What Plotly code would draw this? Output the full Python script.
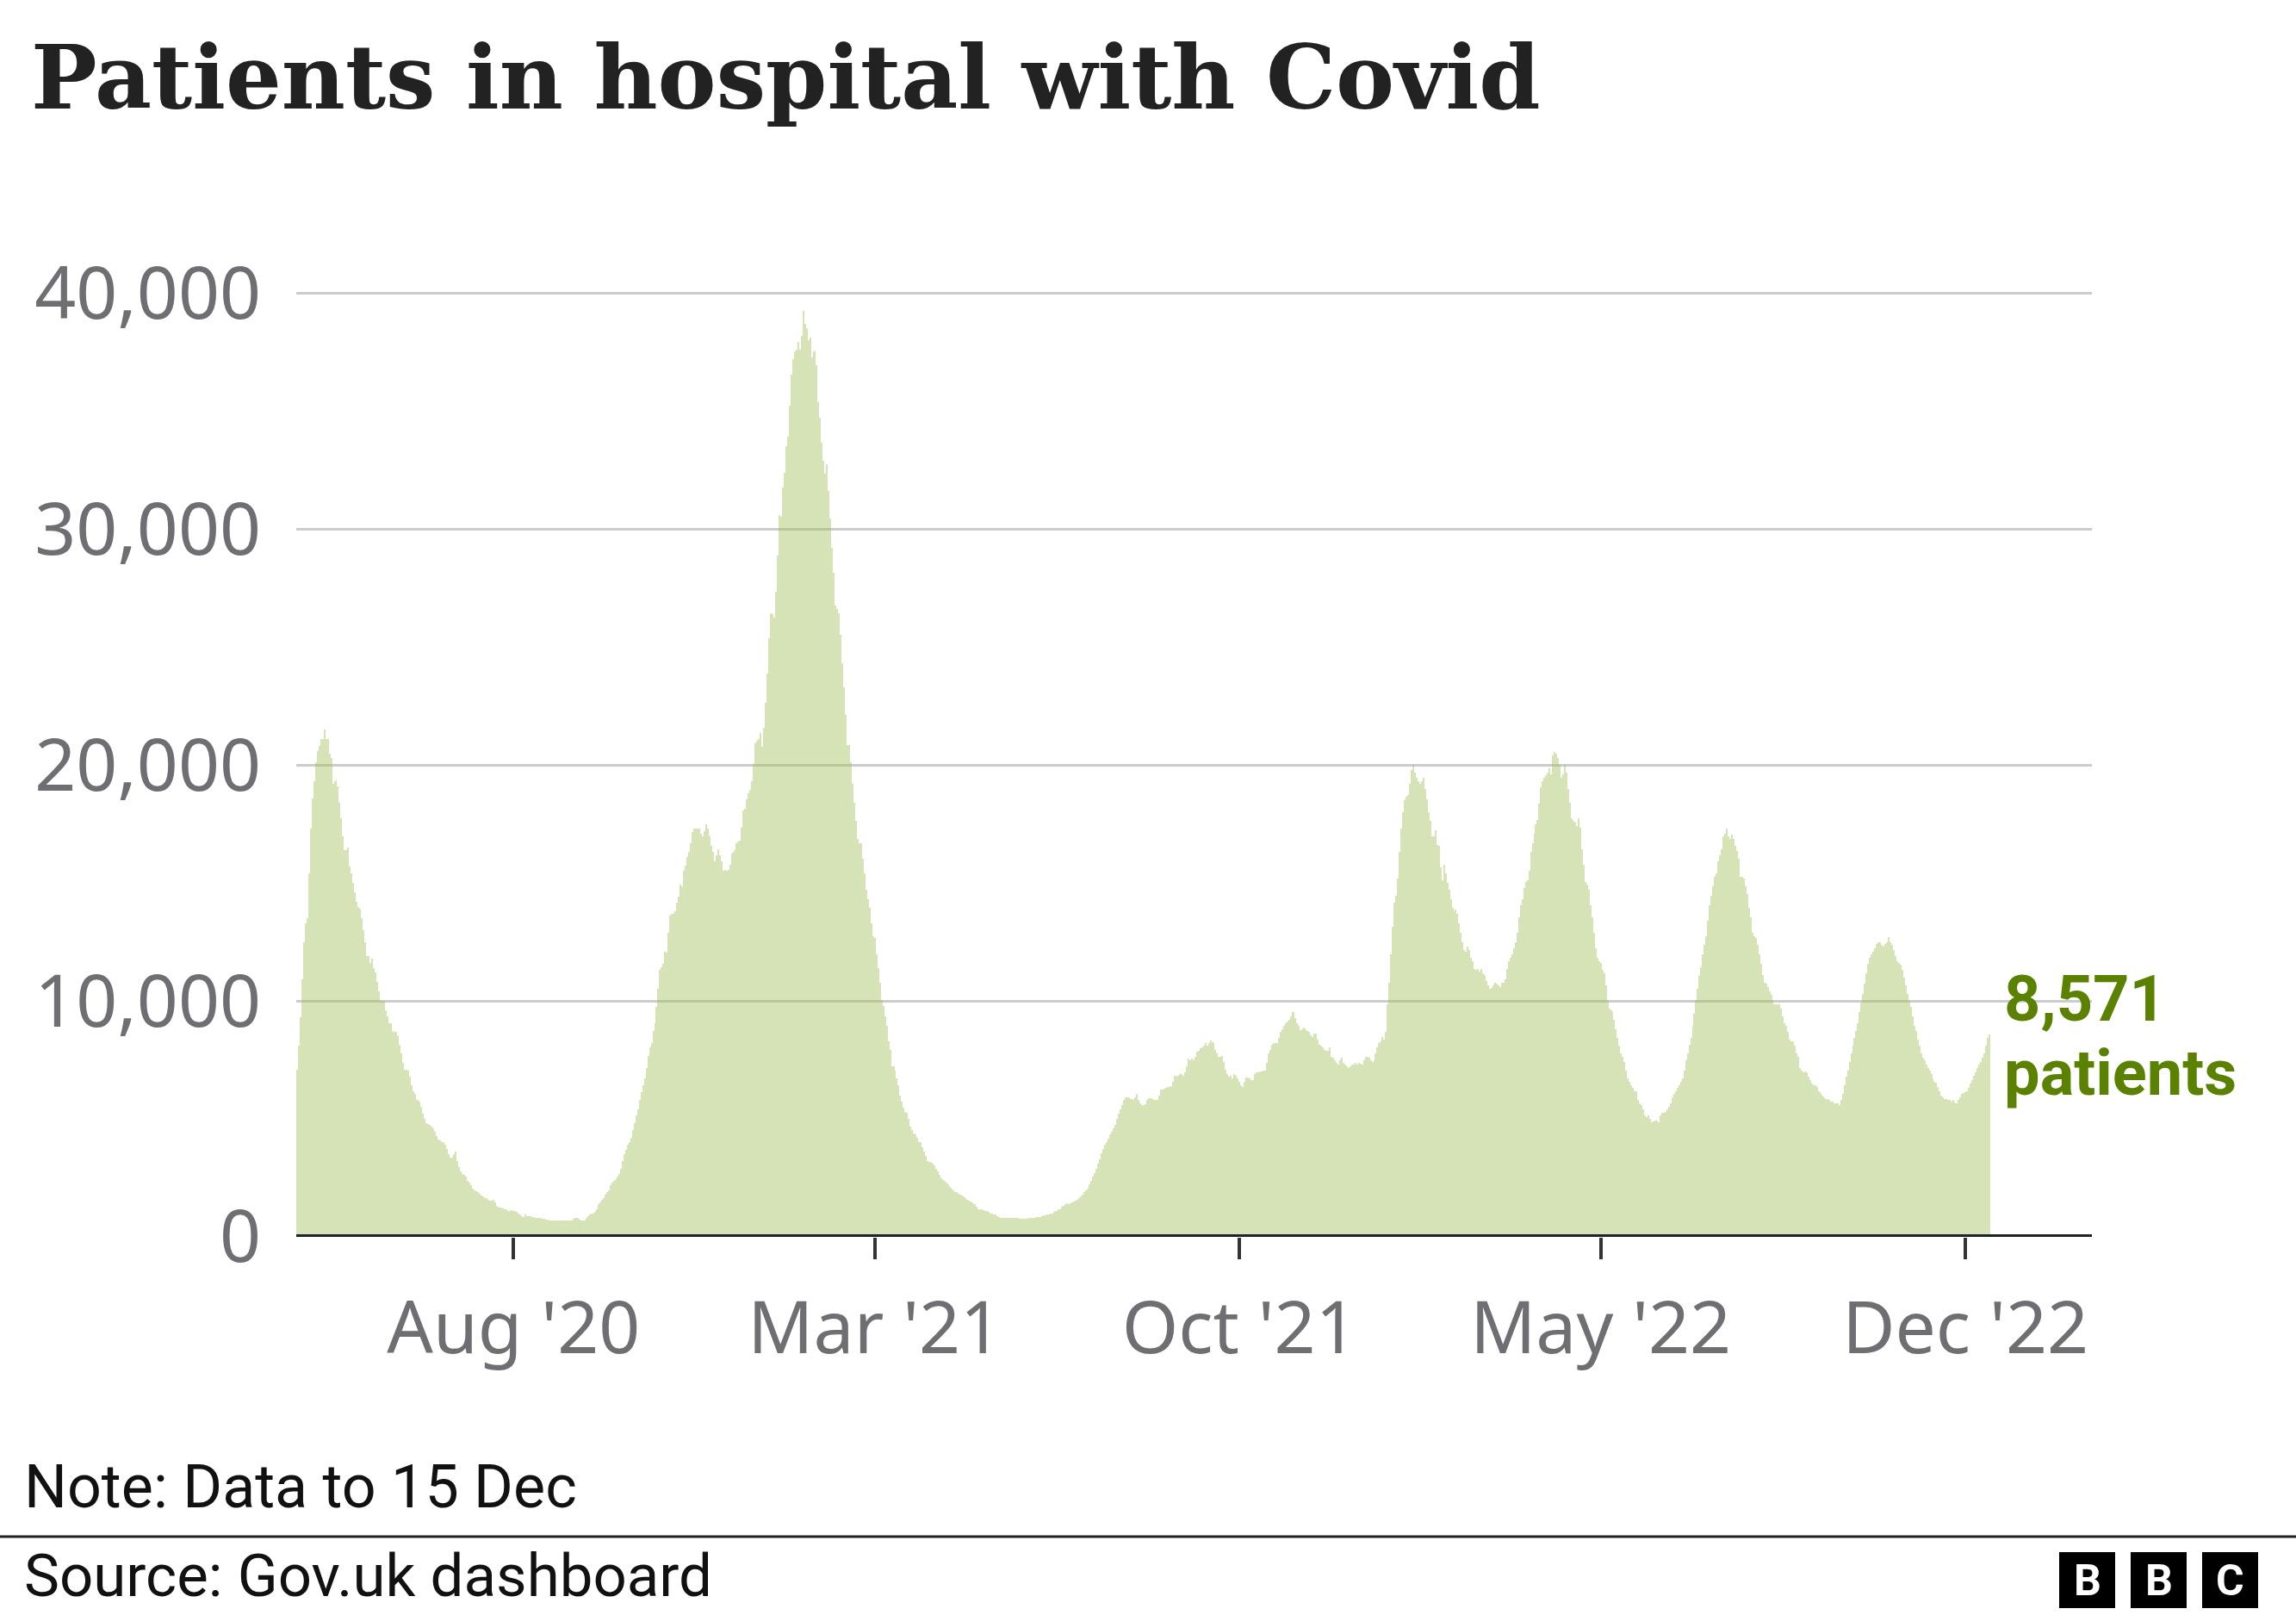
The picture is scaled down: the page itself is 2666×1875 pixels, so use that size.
import pandas as pd
import plotly.graph_objects as go

# ---------------- data (daily patients in hospital with Covid, UK) ----------------
start_date = "2020-03-27"

wave_spring_2020 = [
    7100, 8100, 9300, 10900, 12500, 13300, 13500, 15400, 17300, 18600,
    19300, 20100, 20600, 20800, 21100, 21100, 21500, 21100, 21100, 20500,
    20300, 19200, 19300, 19400, 19100, 18400, 17750, 16960, 16400, 16400,
    16500, 15700, 15400, 15000, 14600, 14200, 14000, 13900, 13500, 13000,
    12500, 11900, 11900, 11600, 11800, 11400, 11200, 10800, 10400, 10000,
    10000, 10000, 9600, 9340, 9070, 9070, 8730, 8680, 8680, 8550,
    8150, 7760, 7360, 7100, 7100, 7050, 6790, 6440, 6180, 6050,
    5790, 5790, 5730, 5520, 5210, 5000, 4810, 4790, 4730, 4680,
    4600, 4470, 4290, 4130, 4080, 4000, 4000, 3890, 3730, 3500,
    3370, 3370, 3520, 3600, 3210, 2950, 2790, 2680, 2630, 2550,
    2370, 2290, 2180, 2050, 1970, 1920, 1890, 1840, 1760, 1710,
    1630, 1630, 1580, 1550, 1530, 1580, 1450, 1320, 1260, 1240,
    1240, 1210, 1180, 1160, 1100, 1080, 1130, 1100, 1080, 1050,
    1000, 950, 870, 840, 950, 890, 870, 870, 840, 840,
    815, 790, 790, 790, 760, 760, 740, 740, 710, 710,
    710, 710, 710, 710, 680, 710, 710, 680, 680, 680,
    680, 680, 760, 790, 790, 790, 740, 680, 710, 700,
]

wave_winter_2020 = [
    790, 890, 950, 970, 1000, 1050, 1160, 1370, 1450, 1580,
    1660, 1790, 1890, 1970, 2180, 2290, 2370, 2450, 2550, 2680,
    2890, 3210, 3500, 3680, 3890, 4000, 4210, 4520, 4810, 5130,
    5390, 5790, 6130, 6440, 6710, 7150, 7680, 8020, 8210, 8730,
    9070, 9730, 10520, 11310, 11440, 11570, 12100, 12050, 12890, 13620,
    13680, 13680, 13810, 14150, 14410, 14940, 14860, 15520, 15730, 16100,
    16310, 16700, 17170, 17300, 17300, 17300, 17300, 17100, 16960, 17200, 17490,
    17300, 16960, 16570, 16310, 15910, 16170, 16440, 16170, 15910, 15520,
    15570, 15520, 15550,
    15780, 16250, 16310, 16440, 16700, 16750, 16780, 17360, 18090, 18150,
    18540, 18800, 18940, 19330, 20040, 20910, 21040, 21090, 21360, 20780,
    21570, 22620, 23880, 25380, 26430, 26380, 26250, 27350, 28880, 30590,
    30510, 31770, 32400, 33530, 33930, 35240, 36560, 37210, 37530, 37610,
    37920, 37610, 38190, 39250, 38710, 38530, 38000, 38130, 37260, 37530,
    37560, 36950, 35370, 34720, 33660, 32880, 32350, 32750, 31610, 30460,
    29190, 28140, 26750, 26620, 26430, 25510, 24330, 23280, 22140, 20830,
    20830, 20120, 19200, 18410, 17620, 16880, 16700, 16670, 16040, 15390,
    14730, 14330, 13940,
]

wave_summer_2021 = [
    13280, 12760, 12680, 11970, 11390, 10780, 10050, 9780, 9340, 8940,
    8280, 7940, 7230, 7230, 7050, 6710, 6440, 6000, 5730, 5470,
    5310, 5260, 5000, 4680, 4520, 4390, 4340, 4210, 4020, 4020,
    3810, 3600, 3420, 3230, 3160, 3160, 3100, 3020, 2890, 2760,
    2630, 2500, 2420, 2370, 2290, 2210, 2100, 2050, 1970, 1890,
    1890, 1840, 1790, 1740, 1710, 1630, 1580, 1530, 1500, 1450,
    1390, 1370, 1260, 1180, 1160, 1160, 1130, 1100, 1100, 1050,
    1000, 970, 950, 950, 870, 840, 815, 815, 815, 790,
    790, 790, 790, 790,
    790, 815, 790, 760, 760, 760, 770,
    760, 790, 790, 790, 815, 815, 840, 840, 840, 870,
    920, 920, 950, 950, 970, 1000, 1050, 1080, 1100, 1160,
    1180, 1260, 1320, 1370, 1420, 1390, 1420, 1450, 1500, 1530,
    1580, 1660, 1710, 1790, 1890, 1970, 2050, 2240, 2370, 2550,
    2710, 2890, 3100, 3290, 3550, 3730, 3890, 4000, 4160, 4340,
    4470, 4600, 4730, 5000, 5210, 5390, 5580, 5790, 5920, 5920,
    5920, 5840, 5840, 5790, 5920, 6050, 5790, 5650, 5580, 5580,
    5630, 5790, 5890, 5890, 5840, 5790,
]

wave_autumn_2021 = [
    5790, 5790, 6000, 6260, 6260, 6280,
    6310, 6360, 6360, 6390, 6580, 6840, 6790, 6840, 6890, 6890,
    6840, 6970, 7230, 7550, 7500, 7550, 7470, 7630, 7840, 7890,
    8000, 8020, 8100, 8210, 8100, 8210, 8340, 8260, 8210, 7940,
    7760, 7630, 7630, 7680, 7420, 7100, 6890, 6790, 6840, 6710,
    6890, 6840, 6710, 6580, 6440, 6360, 6580, 6760, 6760, 6710,
    6650, 6650, 6890, 6970, 6970, 7020, 7020, 7050, 7050, 7360,
    7760, 7940, 8150, 8210, 8230, 8230, 8420, 8680, 8810, 8940,
    9070, 9130, 9200, 9340, 9520, 9520, 9260, 9070, 8940, 8760,
    8810, 8860, 8810, 8730, 8680, 8550, 8470, 8600, 8630, 8360,
    8150, 8100, 8020, 7940, 7890, 7890, 8020, 7630, 7580, 7500,
    7360, 7310, 7500, 7580, 7360, 7310, 7230, 7150, 7230, 7310,
    7290, 7360, 7310, 7360, 7330,
    7310, 7500, 7630, 7630, 7580, 7500, 7420, 7500, 7760, 8020,
    8210, 8280, 8470, 8360, 8680, 9860, 10780, 11970, 13150, 14150,
    14470, 15180, 16310, 17300, 18010, 18510, 18670, 18730, 19200, 19780,
    20000, 19670, 19460, 19330, 19200, 19330, 19460, 18990, 18540, 18010,
    17620, 16960, 16960, 17230, 16620, 16570,
]

wave_spring_2022 = [
    15650, 15120, 15780, 15390, 14990, 14730, 14330, 13940, 13810, 13860,
    13680, 13280, 12890, 12490, 12150, 12100, 12310, 12150, 11840, 11700,
    11360, 11310, 11360, 11230, 11360, 11180, 11100, 10840, 10650, 10520, 10560,
    10650, 10780, 10730, 10650, 10600, 10780, 10780, 10910, 11360, 11700,
    11840, 11970, 12230, 12490, 12890, 13540, 14070, 14330, 14780, 15040,
    15120, 15520, 16310, 16700, 17100, 17490, 17670, 18360, 19070, 19330,
    19460, 19570, 19670, 19860, 19590, 20400, 20550, 20500, 20300, 19990,
    19460, 19590, 19990, 19670, 18990, 18410, 17750, 17620, 17570, 17410,
    17750, 17360, 16440, 15780, 15040, 14940, 14730, 14070, 13540, 12890,
    12230, 11840, 11700, 11620, 11310, 11180, 10650, 9990, 9680, 9600,
    9520, 9200, 8810, 8420, 8100, 7760, 7630, 7420, 7050, 6710,
    6580, 6440, 6310, 6180, 6180, 5790, 5650, 5580, 5390, 5130,
    5080, 5130, 5000, 4870, 4900,
    4920, 4920, 4870, 5130, 5260, 5260, 5310, 5390, 5520, 5650,
    5920, 6050, 6180, 6310, 6440, 6580, 6710, 7050, 7500, 7760,
    8150, 8420, 8940, 9470, 10050, 10520, 11050, 11440, 11970, 12360,
    12760, 13410, 14070, 14470, 14860, 15250, 15390, 15910, 16170, 16440,
]

wave_autumn_2022 = [
    16960, 17100, 17300, 16960, 16880, 17040, 16880, 16570, 16360, 16040,
    15250, 15250, 15200, 14860, 14520, 13940, 13540, 12890, 12760, 12680,
    12360, 11970, 11570, 11100, 10780, 10730, 10570, 10390, 10260, 10050, 9860, 9860, 9860,
    9860, 9680, 9340, 9070, 8940, 8680, 8360, 8280, 8280, 8100,
    7760, 7630, 7150, 7050, 6970, 7020, 6970, 6790, 6630, 6500,
    6440, 6440, 6360, 6180, 6100, 6000, 5920, 5840, 5840, 5790,
    5730, 5730, 5650, 5660,
    5650, 5580, 5790, 6050, 6440, 6790, 7050, 7420, 7760, 8100,
    8420, 8730, 9070, 9520, 9940, 10310, 10730, 11180, 11570, 11840,
    11970, 12100, 12230, 12410, 12490, 12490, 12360, 12310, 12410, 12490,
    12700, 12490, 12360, 12150, 11890, 11700, 11620, 11520, 11310, 11000,
    10650, 10310, 9990, 9730, 9340, 8940, 8730, 8360, 8100, 7760,
    7580, 7500, 7310, 7150, 7050, 6890, 6710, 6580, 6520, 6360,
    6180, 6000, 5920, 5840, 5840, 5790, 5790, 5730, 5790, 5710,
    5650, 5790, 5920, 6050, 6100, 6130, 6180, 6310, 6500, 6630,
    6840, 6970, 7150, 7310, 7420, 7580, 7760, 8100, 8420,
    8571,
]

tick_dates = ["2020-08-01", "2021-03-01", "2021-10-01", "2022-05-01", "2022-12-01"]
tick_labels = ["Aug '20", "Mar '21", "Oct '21", "May '22", "Dec '22"]
y_ticks = [0, 10000, 20000, 30000, 40000]
y_tick_labels = ["0", "10,000", "20,000", "30,000", "40,000"]
latest_value = 8571

title_text = "Patients in hospital with Covid"
note_text = "Note: Data to 15 Dec"
source_text = "Source: Gov.uk dashboard"

# ---------------- build ----------------
patients = (wave_spring_2020 + wave_winter_2020 + wave_summer_2021
            + wave_autumn_2021 + wave_spring_2022 + wave_autumn_2022)
dates = pd.date_range(start_date, periods=len(patients), freq="D")

W, H = 2666, 1875
L, R, T, B = 344, 237, 313, 439
PW, PH = W - L - R, H - T - B


def px_x(x):
    return (x - L) / PW


def px_y(y):
    return (H - B - y) / PH


fig = go.Figure()
fig.add_trace(go.Bar(
    x=dates, y=patients,
    width=86400000,
    marker=dict(color="rgba(159,191,88,0.43)", line=dict(width=0)),
    hoverinfo="skip",
))

x_start = pd.Timestamp(start_date) - pd.Timedelta(hours=12)
x_end = pd.Timestamp("2023-02-13 06:00")

tick_font = dict(family="Noto Sans", size=84, color="#6e6e73")

fig.update_layout(
    width=W, height=H,
    margin=dict(l=L, r=R, t=T, b=B, pad=0),
    paper_bgcolor="white", plot_bgcolor="white",
    showlegend=False,
    bargap=0,
    xaxis=dict(
        type="date",
        range=[x_start, x_end],
        tickvals=tick_dates, ticktext=tick_labels,
        ticks="outside", ticklen=25, tickwidth=4, tickcolor="#333333",
        showgrid=False, zeroline=False, showline=False,
        tickfont=tick_font, ticklabelstandoff=8,
        fixedrange=True,
    ),
    yaxis=dict(
        range=[0, 41000],
        tickvals=y_ticks, ticktext=y_tick_labels,
        showgrid=True, gridcolor="#cccccc", gridwidth=3,
        zeroline=False, showline=False,
        ticks="", tickfont=tick_font, ticklabelstandoff=40,
        fixedrange=True,
    ),
)

shapes = [
    # baseline
    dict(type="line", xref="paper", yref="y", x0=0, x1=1, y0=0, y1=0,
         line=dict(color="#222222", width=6), layer="above"),
    # footer separator
    dict(type="line", xref="paper", yref="paper", x0=px_x(0), x1=px_x(W),
         y0=px_y(1784), y1=px_y(1784), line=dict(color="#222222", width=3)),
]
box_lefts = [2391, 2474, 2557]
box_size = 65
for bl in box_lefts:
    shapes.append(dict(type="rect", xref="paper", yref="paper",
                       x0=px_x(bl), x1=px_x(bl + box_size),
                       y0=px_y(1802), y1=px_y(1802 + box_size),
                       fillcolor="black", line=dict(width=0)))
fig.update_layout(shapes=shapes)

annotations = [
    dict(text=title_text, xref="paper", yref="paper", x=px_x(34), y=px_y(28),
         xanchor="left", yanchor="top", showarrow=False,
         font=dict(family="DejaVu Serif", size=102, color="#222222", weight="bold")),
    dict(text=f"{latest_value:,}", xref="paper", yref="paper", x=px_x(2325), y=px_y(1114),
         xanchor="left", yanchor="top", showarrow=False,
         font=dict(family="Roboto", size=74, color="#5a8200", weight="bold")),
    dict(text="patients", xref="paper", yref="paper", x=px_x(2325), y=px_y(1200),
         xanchor="left", yanchor="top", showarrow=False,
         font=dict(family="Roboto", size=74, color="#5a8200", weight="bold")),
    dict(text=note_text, xref="paper", yref="paper", x=px_x(26), y=px_y(1683),
         xanchor="left", yanchor="top", showarrow=False,
         font=dict(family="Roboto", size=70, color="#111111")),
    dict(text=source_text, xref="paper", yref="paper", x=px_x(26), y=px_y(1787),
         xanchor="left", yanchor="top", showarrow=False,
         font=dict(family="Roboto", size=69, color="#111111")),
]
for bl, letter in zip(box_lefts, ["B", "B", "C"]):
    annotations.append(dict(text=letter, xref="paper", yref="paper",
                            x=px_x(bl + box_size / 2), y=px_y(1802 + box_size / 2),
                            xanchor="center", yanchor="middle", showarrow=False,
                            font=dict(family="Roboto", size=50, color="white", weight="bold")))
fig.update_layout(annotations=annotations)

fig.write_html(
    "out.html",
    config={"displayModeBar": False, "responsive": False},
    post_script="document.body.style.margin='0';document.body.style.overflow='hidden';",
)
